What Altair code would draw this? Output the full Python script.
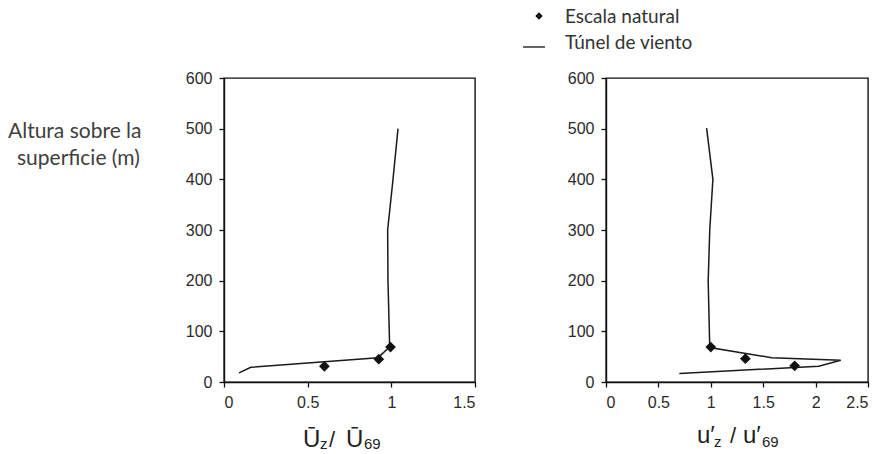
import altair as alt
import pandas as pd

# Mean velocity profile (left panel)
tunel_u_x = [0.09, 0.16, 0.92, 0.99, 0.98, 0.978, 1.01, 1.04]
tunel_u_y = [18, 29, 48, 69, 200, 300, 400, 500]
natural_u_x = [0.60, 0.925, 0.995]
natural_u_y = [31, 45, 69]

# Turbulence profile (right panel)
tunel_t_x = [0.96, 1.02, 0.99, 0.975, 0.99, 1.58, 2.24, 2.03, 0.70]
tunel_t_y = [501, 400, 300, 200, 68, 48, 43, 31, 17]
natural_t_x = [1.00, 1.33, 1.80]
natural_t_y = [69, 46, 32]

y_ticks = [0, 100, 200, 300, 400, 500, 600]
x_ticks_u = [0, 0.5, 1, 1.5]
x_ticks_t = [0, 0.5, 1, 1.5, 2, 2.5]

legend_labels = ["Escala natural", "Túnel de viento"]
y_title_lines = ["Altura sobre la", "superficie (m)"]

AX_FONT = "Liberation Sans"
TXT_FONT = "Lato"


def text_layer(s, x, y, size, font=AX_FONT, color="#222", align="left", baseline="alphabetic"):
    return alt.Chart(pd.DataFrame({"t": [s]})).mark_text(
        align=align, baseline=baseline, fontSize=size, font=font, color=color
    ).encode(x=alt.value(x), y=alt.value(y), text="t:N")


def panel(tx, ty, nx, ny, xmax, xticks, width, height, extras):
    df_line = pd.DataFrame({"x": tx, "y": ty, "o": list(range(len(tx)))})
    df_pts = pd.DataFrame({"x": nx, "y": ny})
    xs = alt.Scale(domain=[0, xmax], nice=False, zero=False)
    ys = alt.Scale(domain=[0, 600], nice=False)
    xax = alt.Axis(values=xticks, format="~g", title=None, grid=False)
    yax = alt.Axis(values=y_ticks, title=None, grid=False)
    line = alt.Chart(df_line).mark_line(color="#1a1a1a", strokeWidth=1.5).encode(
        x=alt.X("x:Q", scale=xs, axis=xax),
        y=alt.Y("y:Q", scale=ys, axis=yax),
        order="o:Q",
    )
    pts = alt.Chart(df_pts).mark_point(
        shape="diamond", filled=True, color="#111", size=115, opacity=1
    ).encode(x="x:Q", y="y:Q")
    return alt.layer(line, pts, *extras).properties(width=width, height=height)


W1, W2, H = 251, 262, 304

left_extras = [
    text_layer(y_title_lines[0], -216, 54, 21, font=TXT_FONT, color="#404040", baseline="middle"),
    text_layer(y_title_lines[1], -207, 81, 21, font=TXT_FONT, color="#404040", baseline="middle"),
    text_layer("Ū", 79, 369, 24),
    text_layer("z", 96, 371, 15),
    text_layer("/", 105, 369, 22),
    text_layer("Ū", 122, 369, 24),
    text_layer("69", 140, 371, 15),
]

legend_pt = alt.Chart(pd.DataFrame({"a": [0]})).mark_point(
    shape="diamond", filled=True, color="#111", size=55, opacity=1
).encode(x=alt.value(-67), y=alt.value(-62))
legend_rule = alt.Chart(pd.DataFrame({"a": [0]})).mark_rule(
    color="#333", strokeWidth=1.5
).encode(x=alt.value(-83), x2=alt.value(-61), y=alt.value(-31))

right_extras = [
    legend_pt,
    legend_rule,
    text_layer(legend_labels[0], -41, -61, 19, font=TXT_FONT, color="#333", baseline="middle"),
    text_layer(legend_labels[1], -41, -35, 19, font=TXT_FONT, color="#333", baseline="middle"),
    text_layer("u′", 91, 365, 24),
    text_layer("z", 108, 369, 15),
    text_layer("/", 124, 365, 22),
    text_layer("u′", 137, 365, 24),
    text_layer("69", 156, 369, 15),
]

left = panel(tunel_u_x, tunel_u_y, natural_u_x, natural_u_y, 1.5, x_ticks_u, W1, H, left_extras)
right = panel(tunel_t_x, tunel_t_y, natural_t_x, natural_t_y, 2.5, x_ticks_t, W2, H, right_extras)

chart = alt.hconcat(left, right, spacing=131, bounds="flush").properties(
    padding={"left": 7, "top": 7, "right": 0, "bottom": 0},
    background="white",
).configure_view(stroke="#111", strokeWidth=1.4).configure_axis(
    domainColor="#111",
    domainWidth=1.4,
    tickColor="#111",
    tickWidth=1.3,
    tickSize=5,
    labelFont=AX_FONT,
    labelFontSize=16,
    labelColor="#2a2a2a",
    labelPadding=7,
).configure_axisX(labelPadding=7)

chart.save("out.html", embed_options={"renderer": "svg", "actions": False})
